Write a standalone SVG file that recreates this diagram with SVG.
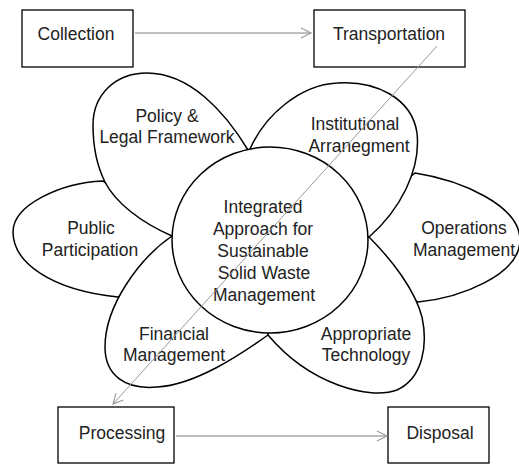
<svg xmlns="http://www.w3.org/2000/svg" width="519" height="464" viewBox="0 0 519 464">
<defs>
<style>
.box{fill:#fff;stroke:#000;stroke-width:1.3}
.petal{fill:#fff;stroke:#000;stroke-width:1.5;stroke-linejoin:round}
text{font-family:"Liberation Sans",Arial,sans-serif;font-size:17.5px;fill:#222;text-anchor:middle}
.arrow{fill:none;stroke:#aaa;stroke-width:1.4}
.diag{fill:none;stroke:#999;stroke-width:1}
</style>
<marker id="chev" markerWidth="14" markerHeight="14" refX="11" refY="6" orient="auto" markerUnits="userSpaceOnUse">
<path d="M1,1 L11,6 L1,11" fill="none" stroke="#999" stroke-width="1.1"/>
</marker>
</defs>
<g id="node-collection"><rect class="box" x="22" y="10" width="111" height="57"/><text x="76" y="40">Collection</text></g>
<g id="node-transportation"><rect class="box" x="314" y="10" width="151" height="57"/><text x="389" y="40">Transportation</text></g>
<g id="node-processing"><rect class="box" x="58" y="407" width="116" height="56"/><text x="122" y="439">Processing</text></g>
<g id="node-disposal"><rect class="box" x="388" y="407" width="101" height="56"/><text x="440" y="439">Disposal</text></g>
<g id="node-public"><path class="petal" d="M200,241 L103,181 C60,183 13,205 13,232 C13,262 50,290 118,297 Z"/><text x="91" y="234">Public</text><text x="90" y="256">Participation</text></g>
<g id="node-operations"><path class="petal" d="M330,240 L415,173 C460,180 520,205 520,240 C520,275 460,298 418,302 Z"/><text x="464" y="234">Operations</text><text x="464" y="256">Management</text></g>
<g id="node-policy"><path class="petal" d="M270,240 L248,150 C225,112 190,73 147,73 C115,73 93,95 93,125 C93,150 98,168 105,182 C115,202 140,222 172,236 Z"/><text x="167" y="122">Policy &amp;</text><text x="167" y="143">Legal Framework</text></g>
<g id="node-institutional"><path class="petal" d="M270,240 L250,149 C265,115 300,85 337,83 C375,80 412,98 417,133 C421,170 400,210 369,237 Z"/><text x="355" y="130">Institutional</text><text x="359" y="152">Arranegment</text></g>
<g id="node-financial"><path class="petal" d="M270,240 L268,335 C240,355 195,385 157,387 C125,390 105,375 105,347 C105,305 140,258 172,236 Z"/><text x="174" y="340">Financial</text><text x="174" y="361">Management</text></g>
<g id="node-appropriate"><path class="petal" d="M270,240 L369,237 C392,260 415,290 422,317 C428,345 423,378 397,390 C370,400 310,385 268,335 Z"/><text x="366" y="340">Appropriate</text><text x="366" y="361">Technology</text></g>
<g id="node-center"><ellipse class="petal" cx="270" cy="240" rx="98" ry="93"/><text x="263" y="213">Integrated</text><text x="263" y="235">Approach for</text><text x="263" y="257">Sustainable</text><text x="264" y="279">Solid Waste</text><text x="264" y="301">Management</text></g>
<g id="connectors">
<line class="arrow" x1="135" y1="33" x2="311" y2="33" marker-end="url(#chev)"/>
<line class="arrow" x1="176" y1="436" x2="387" y2="436" marker-end="url(#chev)"/>
<line class="diag" x1="437" y1="46" x2="113" y2="404" marker-end="url(#chev)"/>
</g>
</svg>
